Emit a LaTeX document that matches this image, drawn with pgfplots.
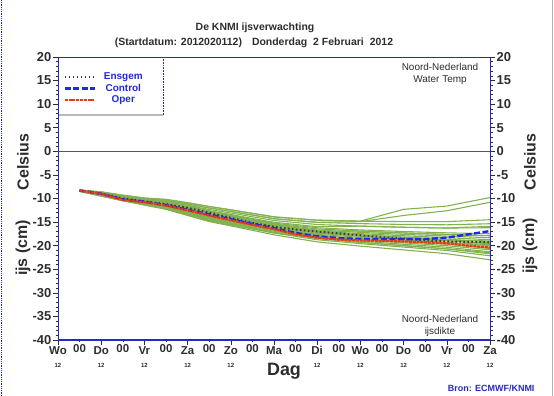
\documentclass[border=0pt]{standalone}
\usepackage{fontspec}
\setmainfont{Liberation Sans}
\usepackage{pgfplots}
\usepackage{pgfplotstable}
\pgfplotsset{compat=1.18}
\definecolor{frameblue}{RGB}{40,40,200}
\definecolor{ensgreen}{RGB}{130,178,80}
\definecolor{operred}{RGB}{235,55,20}
\definecolor{ctrlblue}{RGB}{30,40,230}
\definecolor{ensdark}{RGB}{70,55,55}
\definecolor{txt}{RGB}{45,45,45}

\pgfplotstableread{
d m1 m2 m3 m4 m5 m6 m7 m8 m9 m10 m11 m12 m13 m14 m15 m16 m17 m18 m19 m20 m21 m22 m23 m24 m25
0.5 -8.2 -8.23 -8.2 -8.23 -8.26 -8.29 -8.31 -8.32 -8.34 -8.35 -8.35 -8.37 -8.38 -8.4 -8.41 -8.43 -8.44 -8.47 -8.5 -8.41 -8.26 -8.46 -8.38 -8.29 -8.49
1 -8.6 -8.69 -8.6 -8.69 -8.78 -8.87 -8.92 -8.96 -9.01 -9.05 -9.05 -9.1 -9.14 -9.19 -9.23 -9.28 -9.32 -9.41 -9.5 -9.23 -8.78 -9.37 -9.14 -8.87 -9.46
1.5 -9.3 -9.42 -9.3 -9.42 -9.54 -9.66 -9.72 -9.78 -9.84 -9.9 -9.9 -9.96 -10.02 -10.08 -10.14 -10.2 -10.26 -10.38 -10.5 -10.14 -9.54 -10.32 -10.02 -9.66 -10.44
2 -9.9 -10.05 -9.9 -10.05 -10.2 -10.35 -10.43 -10.5 -10.58 -10.65 -10.65 -10.73 -10.8 -10.88 -10.95 -11.03 -11.1 -11.25 -11.4 -10.95 -10.2 -11.18 -10.8 -10.35 -11.33
2.5 -10.2 -10.41 -10.2 -10.41 -10.62 -10.83 -10.94 -11.04 -11.15 -11.25 -11.25 -11.36 -11.46 -11.57 -11.67 -11.78 -11.88 -12.09 -12.3 -11.67 -10.62 -11.99 -11.46 -10.83 -12.2
3 -10.9 -11.17 -10.9 -11.17 -11.44 -11.71 -11.85 -11.98 -12.12 -12.25 -12.25 -12.39 -12.52 -12.66 -12.79 -12.93 -13.06 -13.33 -13.6 -12.79 -11.44 -13.2 -12.52 -11.71 -13.47
3.5 -11.7 -12.02 -11.7 -12.02 -12.34 -12.66 -12.82 -12.98 -13.14 -13.3 -13.3 -13.46 -13.62 -13.78 -13.94 -14.1 -14.26 -14.58 -14.9 -13.94 -12.66 -14.42 -13.62 -12.66 -14.74
4 -12.4 -12.74 -12.4 -12.74 -13.08 -13.42 -13.59 -13.76 -13.93 -14.1 -14.1 -14.27 -14.44 -14.61 -14.78 -14.95 -15.12 -15.46 -15.8 -14.78 -13.76 -15.29 -14.44 -13.42 -15.63
5 -13.9 -14.28 -13.9 -14.28 -14.66 -15.04 -15.23 -15.42 -15.61 -15.8 -15.99 -15.99 -16.18 -16.37 -16.56 -16.75 -16.94 -17.32 -17.7 -16.18 -15.8 -17.13 -16.56 -15.42 -17.32
6 -14.6 -15.06 -14.6 -15.06 -15.52 -15.98 -16.21 -16.44 -16.67 -16.9 -17.36 -17.13 -17.36 -17.59 -17.82 -18.05 -18.28 -18.74 -19.2 -16.9 -17.13 -18.51 -18.28 -16.9 -18.28
7 -14.8 -14.9 -14.8 -15.33 -15.86 -15.86 -16.66 -16.92 -17.19 -17.45 -17.98 -17.72 -17.98 -18.25 -18.51 -18.78 -19.04 -19.57 -20.1 -16.92 -17.72 -19.31 -19.31 -17.98 -18.78
8 -12.3 -13.6 -14.9 -15.5 -16.1 -16.1 -17.0 -17.3 -17.6 -17.9 -18.5 -18.2 -18.5 -18.8 -19.1 -19.4 -19.7 -20.3 -20.9 -17.3 -18.2 -20.0 -20.0 -18.8 -19.1
9 -11.6 -12.6 -14.9 -15.58 -16.26 -16.26 -17.28 -17.62 -17.96 -18.3 -18.98 -18.64 -18.98 -19.32 -19.66 -20.0 -20.34 -21.02 -21.7 -17.62 -18.8 -20.68 -20.68 -19.32 -19.66
10 -9.8 -10.8 -14.5 -15.35 -16.2 -15.9 -17.48 -17.9 -18.33 -18.75 -19.6 -19.18 -19.4 -20.03 -20.45 -20.88 -21.3 -22.15 -23.0 -17.9 -19.0 -21.73 -21.5 -19.8 -20.6
}\enstab

\pgfplotstableread{
d ensgem control oper
0.5 -8.3 -8.3 -8.3
1 -8.9 -9.0 -9.0
1.5 -10.0 -10.2 -10.3
2 -10.6 -10.7 -10.8
2.5 -11.2 -11.4 -11.5
3 -12.0 -12.4 -12.5
3.5 -13.0 -13.4 -13.6
4 -14.1 -14.4 -14.6
4.5 -15.2 -15.4 -15.6
5 -16.0 -16.3 -16.5
5.5 -16.6 -17.3 -17.6
6 -17.0 -18.0 -18.3
6.5 -17.4 -18.4 -18.7
7 -17.8 -18.6 -18.9
7.5 -18.2 -18.6 -19.0
8 -18.5 -18.6 -19.1
8.5 -18.9 -18.6 -19.3
9 -19.1 -18.3 -19.5
9.5 -19.2 -17.6 -20.0
10 -19.3 -16.9 -20.4
}\maintab

\begin{document}
\begin{tikzpicture}
\path[use as bounding box] (0bp,0bp) rectangle (554bp,396bp);
\draw[frameblue, densely dotted, line width=0.8bp] (1bp,0bp) -- (1bp,396bp);
\draw[gray!60, line width=0.8bp] (552.5bp,0bp) -- (552.5bp,396bp);
% legend box
\fill[white] (58.5bp,281bp) rectangle (163bp,339bp);
\draw[gray!55, line width=1.2bp] (58.5bp,281bp) -- (163bp,281bp);
\draw[frameblue, densely dotted, line width=0.6bp] (163bp,281bp) -- (163bp,339bp);

\begin{axis}[
  at={(58bp,56bp)}, anchor=south west, scale only axis,
  width=432bp, height=283bp,
  xmin=0, xmax=10, ymin=-40, ymax=20,
  axis line style={frameblue, line width=0.8bp},
  tick align=outside, major tick length=5bp, minor tick length=2.5bp,
  tick style={txt, line width=0.6bp},
  ytick={-40,-35,...,20},
  yticklabels={-40,-35,-30,-25,-20,-15,-10,-5,0,5,10,15,20},
  minor y tick num=4,
  ytick pos=left,
  yticklabel style={font=\bfseries\fontsize{13}{13}\selectfont, text=txt, inner sep=1.5bp},
  xtick={0,...,10},
  xtick pos=bottom,
  xticklabels={
    {Wo\\[2bp]{\fontsize{6}{6}\selectfont 12}},
    {Do\\[2bp]{\fontsize{6}{6}\selectfont 12}},
    {Vr\\[2bp]{\fontsize{6}{6}\selectfont 12}},
    {Za\\[2bp]{\fontsize{6}{6}\selectfont 12}},
    {Zo\\[2bp]{\fontsize{6}{6}\selectfont 12}},
    {Ma\\[2bp]{\fontsize{6}{6}\selectfont \phantom{12}}},
    {Di\\[2bp]{\fontsize{6}{6}\selectfont 12}},
    {Wo\\[2bp]{\fontsize{6}{6}\selectfont 12}},
    {Do\\[2bp]{\fontsize{6}{6}\selectfont 12}},
    {Vr\\[2bp]{\fontsize{6}{6}\selectfont 12}},
    {Za\\[2bp]{\fontsize{6}{6}\selectfont 12}}},
  xticklabel style={align=center, font=\bfseries\fontsize{11.5}{11.5}\selectfont, text=txt, inner sep=1bp},
  extra x ticks={0.5,1.5,2.5,3.5,4.5,5.5,6.5,7.5,8.5,9.5},
  extra x tick labels={00,00,00,00,00,00,00,00,00,00},
  extra x tick style={major tick length=2.5bp, tick label style={font=\bfseries\fontsize{6}{6}\selectfont, yshift=-1bp}},
  legend style={at={(0.01,0.955)}, anchor=north west, draw=none, fill=none,
    font=\bfseries\fontsize{10}{10}\selectfont, text=ctrlblue,
    row sep=-1bp, inner xsep=1bp, inner ysep=1bp},
  legend cell align=center,
  legend image code/.code={\draw[#1] (0bp,0bp) -- (30bp,0bp);},
  clip=true,
]
\pgfplotsinvokeforeach{1,...,25}{
  \addplot[ensgreen, line width=1.1bp, forget plot] table[x=d, y=m#1] {\enstab};
}
\addplot[txt!80, line width=1.6bp, forget plot] coordinates {(0,0) (10,0)};
\addplot[ensdark, line width=2bp, dash pattern=on 1.6bp off 2.4bp] table[x=d, y=ensgem] {\maintab};
\addplot[ctrlblue, line width=2.4bp, dash pattern=on 6bp off 2.5bp] table[x=d, y=control] {\maintab};
\addplot[operred, line width=2.2bp, dash pattern=on 3bp off 0.8bp] table[x=d, y=oper] {\maintab};
\legend{\hspace*{6bp}Ensgem\hspace*{12bp},\hspace*{6bp}Control\hspace*{12bp},\hspace*{6bp}Oper\hspace*{12bp}}
\end{axis}

\begin{axis}[
  at={(58bp,56bp)}, anchor=south west, scale only axis,
  width=432bp, height=283bp,
  xmin=0, xmax=10, ymin=-40, ymax=20,
  axis x line=none, axis y line*=right,
  axis line style={frameblue, line width=0.8bp, -},
  tick align=outside, major tick length=5bp, minor tick length=2.5bp,
  tick style={txt, line width=0.6bp},
  ytick={-40,-35,...,20},
  yticklabels={-40,-35,-30,-25,-20,-15,-10,-5,0,5,10,15,20},
  minor y tick num=4,
  yticklabel style={font=\bfseries\fontsize{13}{13}\selectfont, text=txt, inner sep=1.5bp},
]
\addplot[draw=none] coordinates {(0,0)};
\end{axis}
\draw[frameblue, line width=0.8bp] (58bp,339bp) -- (490bp,339bp);
\draw[frameblue, line width=2bp] (58bp,56bp) -- (490bp,56bp);

\node[font=\bfseries\fontsize{10.5}{10.5}\selectfont, text=txt] at (255bp,368bp) {De KNMI ijsverwachting};
\node[font=\bfseries\fontsize{10.5}{10.5}\selectfont, text=txt] at (254bp,353bp) {(Startdatum: 2012020112)\hspace{10bp}Donderdag\hspace{6bp}2 Februari\hspace{6bp}2012};
\node[rotate=90, font=\bfseries\fontsize{16}{16}\selectfont, text=txt] at (23bp,234bp) {Celsius};
\node[rotate=90, font=\bfseries\fontsize{16}{16}\selectfont, text=txt] at (23bp,148bp) {ijs (cm)};
\node[rotate=90, font=\bfseries\fontsize{16}{16}\selectfont, text=txt] at (530bp,234bp) {Celsius};
\node[rotate=90, font=\bfseries\fontsize{16}{16}\selectfont, text=txt] at (530bp,150bp) {ijs (cm)};
\node[font=\bfseries\fontsize{18}{18}\selectfont, text=txt] at (284bp,25bp) {Dag};
\node[anchor=east, font=\bfseries\fontsize{9}{9}\selectfont, text=frameblue] at (538bp,8bp) {Bron: ECMWF/KNMI};
\node[align=center, font=\fontsize{10}{12}\selectfont, text=txt] at (440bp,322bp) {Noord-Nederland\\Water Temp};
\node[align=center, font=\fontsize{10}{12}\selectfont, text=txt] at (440bp,70bp) {Noord-Nederland\\ijsdikte};
\end{tikzpicture}
\end{document}
